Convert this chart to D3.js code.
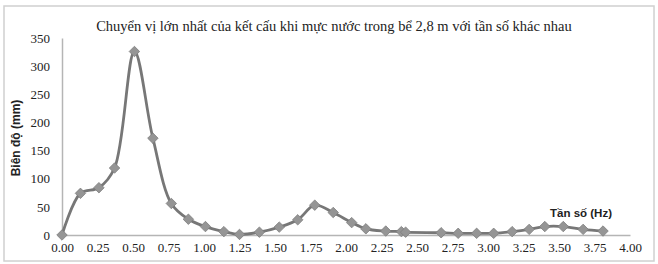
<!DOCTYPE html>
<html>
<head>
<meta charset="utf-8">
<script src="https://cdn.jsdelivr.net/npm/d3@7"></script>
<style>
  body { margin: 0; background: #fff; }
</style>
</head>
<body>
<svg id="chart"></svg>
<script>
// Data
const freqs = [0, 0.13, 0.26, 0.37, 0.51, 0.64, 0.77, 0.89, 1.01, 1.14, 1.25, 1.39, 1.53, 1.66, 1.78,
    1.91, 2.04, 2.14, 2.28, 2.39, 2.42, 2.67, 2.79, 2.92, 3.04, 3.17, 3.29, 3.40, 3.53, 3.67, 3.81];
const amps = [0, 74, 84, 119, 326, 172, 56, 28, 15, 6, 1, 5, 14, 27, 53,
    40, 22, 11, 7, 6, 5, 4, 3, 3, 3, 6, 10, 15, 15, 10, 7];
const xTicks = [0, 0.25, 0.5, 0.75, 1, 1.25, 1.5, 1.75, 2, 2.25, 2.5, 2.75, 3, 3.25, 3.5, 3.75, 4];
const yTicks = [0, 50, 100, 150, 200, 250, 300, 350];
const title = 'Chuyển vị lớn nhất của kết cấu khi mực nước trong bể 2,8 m với tần số khác nhau';
const xTitle = 'Tần số (Hz)';
const yTitle = 'Biên độ (mm)';

const data = freqs.map((f, i) => ({ f: f, v: amps[i] }));

const svgWidth = 658;
const svgHeight = 264;
const margin = { top: 38, right: 28, bottom: 29, left: 62 };
const serif = '"Liberation Serif", "Times New Roman", serif';
const sans = '"Liberation Sans", Arial, sans-serif';

const svg = d3.select('#chart')
    .attr('width', svgWidth)
    .attr('height', svgHeight);

// outer frame
svg.append('rect')
    .attr('x', 4).attr('y', 6)
    .attr('width', 650).attr('height', 255)
    .attr('fill', '#fff')
    .attr('stroke', '#d0d0d0')
    .attr('stroke-width', 1.5);

const xScale = d3.scaleLinear()
    .domain([0, 4])
    .range([margin.left, svgWidth - margin.right]);

const yScale = d3.scaleLinear()
    .domain([0, 350])
    .range([svgHeight - margin.bottom, margin.top]);

// x axis
const xAxis = svg.append('g')
    .attr('transform', `translate(0, ${yScale(0)})`)
    .call(d3.axisBottom(xScale).tickValues(xTicks).tickFormat(d3.format('.2f')).tickSize(0).tickPadding(8));
xAxis.select('.domain').attr('stroke', '#b5b5b5').attr('stroke-width', 1.5);
xAxis.selectAll('text')
    .attr('font-family', serif)
    .attr('font-size', 13)
    .attr('fill', '#222');

// y axis
const yAxis = svg.append('g')
    .attr('transform', `translate(${margin.left}, 0)`)
    .call(d3.axisLeft(yScale).tickValues(yTicks).tickSize(0).tickPadding(12));
yAxis.select('.domain').attr('stroke', '#b5b5b5').attr('stroke-width', 1.5);
yAxis.selectAll('text')
    .attr('font-family', serif)
    .attr('font-size', 13)
    .attr('fill', '#222');

// line
const line = d3.line()
    .x(d => xScale(d.f))
    .y(d => yScale(d.v))
    .curve(d3.curveCatmullRom.alpha(0.5));

svg.append('path')
    .datum(data)
    .attr('fill', 'none')
    .attr('stroke', '#777')
    .attr('stroke-width', 2.8)
    .attr('d', line);

// diamond markers
svg.selectAll('.marker')
    .data(data)
    .enter()
    .append('path')
    .attr('class', 'marker')
    .attr('transform', d => `translate(${xScale(d.f)}, ${yScale(d.v)})`)
    .attr('d', d3.symbol().type(d3.symbolDiamond2).size(70))
    .attr('fill', '#959595')
    .attr('stroke', '#7d7d7d')
    .attr('stroke-width', 0.8);

// title
svg.append('text')
    .attr('x', 334)
    .attr('y', 31)
    .attr('text-anchor', 'middle')
    .attr('font-family', serif)
    .attr('font-size', 14.5)
    .attr('fill', '#222')
    .text(title);

// x axis title
svg.append('text')
    .attr('x', 581)
    .attr('y', 217)
    .attr('text-anchor', 'middle')
    .attr('font-family', sans)
    .attr('font-weight', 'bold')
    .attr('font-size', 11.5)
    .attr('fill', '#222')
    .text(xTitle);

// y axis title
svg.append('text')
    .attr('transform', 'translate(20, 138) rotate(-90)')
    .attr('text-anchor', 'middle')
    .attr('font-family', sans)
    .attr('font-weight', 'bold')
    .attr('font-size', 12)
    .attr('fill', '#222')
    .text(yTitle);
</script>
</body>
</html>
